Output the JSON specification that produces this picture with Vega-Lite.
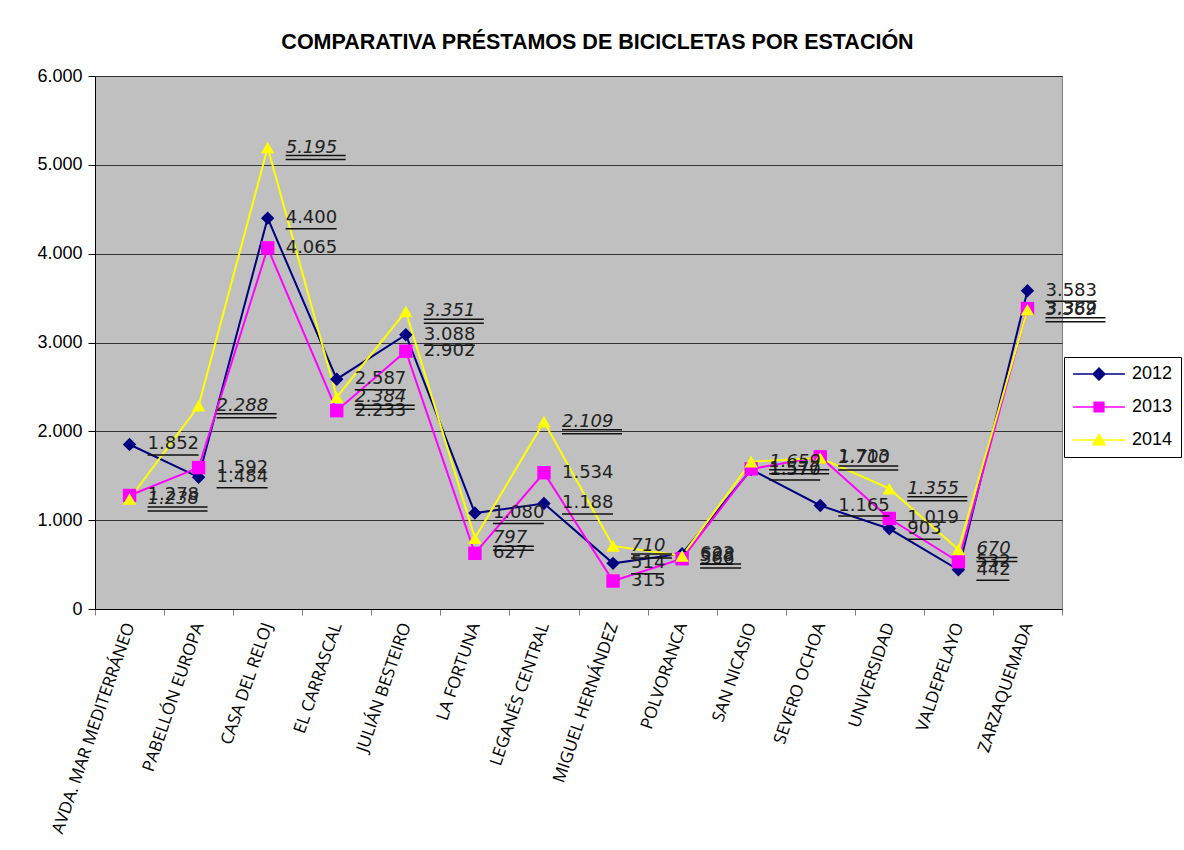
{
  "$schema": "https://vega.github.io/schema/vega-lite/v6.json",
  "width": 967,
  "height": 533,
  "autosize": "none",
  "padding": {"left": 95, "top": 76, "right": 122, "bottom": 241},
  "background": "white",
  "title": {"text": "COMPARATIVA PRÉSTAMOS DE BICICLETAS POR ESTACIÓN", "font": "Liberation Sans", "fontSize": 21.5, "fontWeight": "bold", "color": "black", "anchor": "middle", "dx": 19, "offset": 14},
  "config": {
    "view": {"fill": "#C0C0C0", "stroke": "#808080", "strokeWidth": 1},
    "locale": {"number": {"decimal": ",", "thousands": ".", "grouping": [3], "currency": ["", " €"]}}
  },
  "data": {"values": [
    {"station": "AVDA. MAR MEDITERRÁNEO", "year": "2012", "value": 1852},
    {"station": "PABELLÓN EUROPA", "year": "2012", "value": 1484},
    {"station": "CASA DEL RELOJ", "year": "2012", "value": 4400},
    {"station": "EL CARRASCAL", "year": "2012", "value": 2587},
    {"station": "JULIÁN BESTEIRO", "year": "2012", "value": 3088},
    {"station": "LA FORTUNA", "year": "2012", "value": 1080},
    {"station": "LEGANÉS CENTRAL", "year": "2012", "value": 1188},
    {"station": "MIGUEL HERNÁNDEZ", "year": "2012", "value": 514},
    {"station": "POLVORANCA", "year": "2012", "value": 623},
    {"station": "SAN NICASIO", "year": "2012", "value": 1570},
    {"station": "SEVERO OCHOA", "year": "2012", "value": 1165},
    {"station": "UNIVERSIDAD", "year": "2012", "value": 903},
    {"station": "VALDEPELAYO", "year": "2012", "value": 442},
    {"station": "ZARZAQUEMADA", "year": "2012", "value": 3583},
    {"station": "AVDA. MAR MEDITERRÁNEO", "year": "2013", "value": 1278},
    {"station": "PABELLÓN EUROPA", "year": "2013", "value": 1592},
    {"station": "CASA DEL RELOJ", "year": "2013", "value": 4065},
    {"station": "EL CARRASCAL", "year": "2013", "value": 2233},
    {"station": "JULIÁN BESTEIRO", "year": "2013", "value": 2902},
    {"station": "LA FORTUNA", "year": "2013", "value": 627},
    {"station": "LEGANÉS CENTRAL", "year": "2013", "value": 1534},
    {"station": "MIGUEL HERNÁNDEZ", "year": "2013", "value": 315},
    {"station": "POLVORANCA", "year": "2013", "value": 566},
    {"station": "SAN NICASIO", "year": "2013", "value": 1577},
    {"station": "SEVERO OCHOA", "year": "2013", "value": 1713},
    {"station": "UNIVERSIDAD", "year": "2013", "value": 1019},
    {"station": "VALDEPELAYO", "year": "2013", "value": 532},
    {"station": "ZARZAQUEMADA", "year": "2013", "value": 3382},
    {"station": "AVDA. MAR MEDITERRÁNEO", "year": "2014", "value": 1238},
    {"station": "PABELLÓN EUROPA", "year": "2014", "value": 2288},
    {"station": "CASA DEL RELOJ", "year": "2014", "value": 5195},
    {"station": "EL CARRASCAL", "year": "2014", "value": 2384},
    {"station": "JULIÁN BESTEIRO", "year": "2014", "value": 3351},
    {"station": "LA FORTUNA", "year": "2014", "value": 797},
    {"station": "LEGANÉS CENTRAL", "year": "2014", "value": 2109},
    {"station": "MIGUEL HERNÁNDEZ", "year": "2014", "value": 710},
    {"station": "POLVORANCA", "year": "2014", "value": 598},
    {"station": "SAN NICASIO", "year": "2014", "value": 1659},
    {"station": "SEVERO OCHOA", "year": "2014", "value": 1700},
    {"station": "UNIVERSIDAD", "year": "2014", "value": 1355},
    {"station": "VALDEPELAYO", "year": "2014", "value": 670},
    {"station": "ZARZAQUEMADA", "year": "2014", "value": 3369}
  ]},
  "encoding": {
    "x": {
      "field": "station", "type": "nominal", "sort": null,
      "scale": {"type": "band", "paddingInner": 0, "paddingOuter": 0},
      "axis": {"title": null, "labelAngle": -71, "labelFont": "Open Sans", "labelFontSize": 17, "labelColor": "black", "labelLimit": 400, "tickBand": "extent", "tickSize": 6, "tickColor": "#808080", "domainColor": "black", "labelPadding": 8, "grid": false}
    },
    "y": {
      "field": "value", "type": "quantitative",
      "scale": {"domain": [0, 6000], "nice": false},
      "axis": {"title": null, "values": [0, 1000, 2000, 3000, 4000, 5000, 6000], "format": ",d", "labelFont": "Liberation Sans", "labelFontSize": 18, "labelColor": "black", "tickSize": 7, "tickColor": "black", "domainColor": "black", "grid": true, "gridColor": "#333333", "gridWidth": 1, "labelPadding": 6}
    }
  },
  "resolve": {"scale": {"shape": "independent", "fill": "independent"}},
  "layer": [
    {
      "mark": {"type": "line", "strokeWidth": 2},
      "encoding": {
        "color": {
          "field": "year", "type": "nominal",
          "scale": {"domain": ["2012", "2013", "2014"], "range": ["#000080", "#FF00FF", "#FFFF00"]},
          "legend": null
        }
      }
    },
    {
      "mark": {"type": "point", "filled": true, "opacity": 1, "size": 196, "strokeWidth": 0, "clip": true, "yOffset": 5000},
      "encoding": {
        "fill": {
          "field": "year", "type": "nominal",
          "scale": {"domain": ["2012", "2013", "2014"], "range": ["#000080", "#FF00FF", "#FFFF00"]},
          "legend": {
            "orient": "none", "legendX": 969, "legendY": 281, "title": null,
            "fillColor": "white", "strokeColor": "black", "padding": 8,
            "symbolSize": 196, "symbolOffset": 18, "labelOffset": 24,
            "labelFont": "Liberation Sans", "labelFontSize": 18, "labelColor": "black",
            "rowPadding": 15, "symbolStrokeWidth": 0
          }
        },
        "shape": {
          "field": "year", "type": "nominal",
          "scale": {"domain": ["2012", "2013", "2014"], "range": ["M-3.7,-0.11L3.7,-0.11L3.7,0.11L-3.7,0.11ZM0,-1L1,0L0,1L-1,0Z", "M-3.7,-0.11L3.7,-0.11L3.7,0.11L-3.7,0.11ZM-0.8,-0.8L0.8,-0.8L0.8,0.8L-0.8,0.8Z", "M-3.7,-0.11L3.7,-0.11L3.7,0.11L-3.7,0.11ZM0,-1L1.05,0.8L-1.05,0.8Z"]},
          "legend": {
            "orient": "none", "legendX": 969, "legendY": 281, "title": null,
            "fillColor": "white", "strokeColor": "black", "padding": 8,
            "symbolSize": 196, "symbolOffset": 18, "labelOffset": 24,
            "labelFont": "Liberation Sans", "labelFontSize": 18, "labelColor": "black",
            "rowPadding": 15, "symbolStrokeWidth": 0
          }
        }
      }
    },
    {
      "mark": {"type": "point", "filled": true, "opacity": 1, "size": 180, "strokeWidth": 0},
      "encoding": {
        "fill": {"field": "year", "type": "nominal", "scale": {"domain": ["2012", "2013", "2014"], "range": ["#000080", "#FF00FF", "#FFFF00"]}, "legend": null},
        "shape": {"field": "year", "type": "nominal", "scale": {"domain": ["2012", "2013", "2014"], "range": ["diamond", "square", "triangle-up"]}, "legend": null}
      }
    },
    {
      "transform": [{"filter": "datum.year === '2012'"}],
      "mark": {"type": "text", "align": "left", "baseline": "middle", "dx": 18, "font": "DejaVu Sans", "fontSize": 18, "color": "#222222"},
      "encoding": {"text": {"field": "value", "type": "quantitative", "format": ",d"}}
    },
    {
      "transform": [{"filter": "datum.year === '2012' && datum.value >= 1000"}],
      "mark": {"type": "tick", "orient": "horizontal", "size": 51, "thickness": 1.5, "xOffset": 43.5, "yOffset": 10.5, "color": "#111111", "opacity": 1}
    },
    {
      "transform": [{"filter": "datum.year === '2012' && datum.value < 1000"}],
      "mark": {"type": "tick", "orient": "horizontal", "size": 33, "thickness": 1.5, "xOffset": 34.5, "yOffset": 10.5, "color": "#111111", "opacity": 1}
    },
    {
      "transform": [{"filter": "datum.year === '2013'"}],
      "mark": {"type": "text", "align": "left", "baseline": "middle", "dx": 18, "font": "DejaVu Sans", "fontSize": 18, "color": "#222222"},
      "encoding": {"text": {"field": "value", "type": "quantitative", "format": ",d"}}
    },
    {
      "transform": [{"filter": "datum.year === '2014'"}],
      "mark": {"type": "text", "align": "left", "baseline": "middle", "dx": 18, "font": "DejaVu Sans", "fontSize": 18, "fontStyle": "italic", "color": "#222222"},
      "encoding": {"text": {"field": "value", "type": "quantitative", "format": ",d"}}
    },
    {
      "transform": [{"filter": "datum.year === '2014' && datum.value >= 1000"}],
      "mark": {"type": "tick", "orient": "horizontal", "size": 60, "thickness": 1.5, "xOffset": 48, "yOffset": 8, "color": "#111111", "opacity": 1}
    },
    {
      "transform": [{"filter": "datum.year === '2014' && datum.value >= 1000"}],
      "mark": {"type": "tick", "orient": "horizontal", "size": 60, "thickness": 1.5, "xOffset": 48, "yOffset": 12, "color": "#111111", "opacity": 1}
    },
    {
      "transform": [{"filter": "datum.year === '2014' && datum.value < 1000"}],
      "mark": {"type": "tick", "orient": "horizontal", "size": 41, "thickness": 1.5, "xOffset": 38.5, "yOffset": 8, "color": "#111111", "opacity": 1}
    },
    {
      "transform": [{"filter": "datum.year === '2014' && datum.value < 1000"}],
      "mark": {"type": "tick", "orient": "horizontal", "size": 41, "thickness": 1.5, "xOffset": 38.5, "yOffset": 12, "color": "#111111", "opacity": 1}
    }
  ]
}
